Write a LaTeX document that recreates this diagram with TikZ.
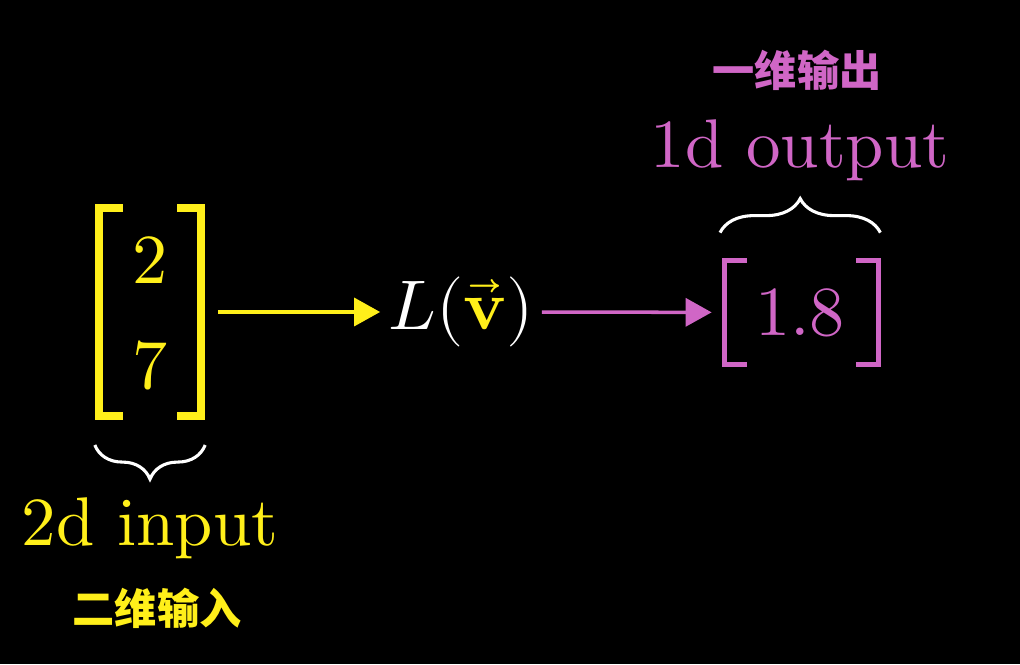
\documentclass[tikz,border=0pt]{standalone}
\usepackage{fontspec}
\usepackage{unicode-math}
\setmainfont{lmroman10-regular.otf}[ItalicFont=lmroman10-italic.otf, BoldFont=lmroman10-bold.otf]
\newfontfamily\cjk{Noto Sans CJK SC}
\usetikzlibrary{arrows.meta,positioning,calc,decorations.pathreplacing}
\definecolor{inyellow}{HTML}{FFEF1A}
\definecolor{outpink}{HTML}{D066C6}

\begin{document}
\begin{tikzpicture}[
  big/.style={font=\fontsize{50}{60}\selectfont, inner sep=0pt},
  tag/.style={font=\fontsize{49}{58}\selectfont, inner sep=0pt, anchor=base},
  cjktag/.style={font={\cjk\bfseries\fontsize{30}{36}\selectfont}, inner sep=0pt, anchor=base},
  matbox/.style={inner sep=0pt, minimum width=#1},
  yarr/.style={-{Triangle[length=0.65cm,width=0.7cm]}, line width=2.5pt, inyellow},
  parr/.style={-{Triangle[length=0.65cm,width=0.7cm]}, line width=2.5pt, outpink},
  brc/.style={decorate, decoration={brace, amplitude=0.85cm}, line width=2.2pt, white}
]
\fill[black] (0,0) rectangle (25.5,16.6);
\useasboundingbox (0,0) rectangle (25.5,16.6);

% input vector
\node[matbox=2.525cm, minimum height=5.2cm] (inmat) at (3.75,8.8) {};
\node[big, inyellow] (two) at (3.75,10.1) {2};
\node[big, inyellow] (seven) at (3.75,7.45) {7};
\draw[inyellow, line width=5.5pt] ($(inmat.north west)+(0.59,0)$) -- (inmat.north west) -- (inmat.south west) -- ($(inmat.south west)+(0.59,0)$);
\draw[inyellow, line width=5.5pt] ($(inmat.north east)+(-0.59,0)$) -- (inmat.north east) -- (inmat.south east) -- ($(inmat.south east)+(-0.59,0)$);

% transformation
\node[big, white] (lv) at (11.525,8.8) {$L(\textcolor{inyellow}{\vec{\mathbf{v}}})$};

% output number
\node[matbox=3.825cm, minimum height=2.575cm] (outmat) at (20.04,8.79) {};
\node[big, outpink] (val) at (20.0,8.775) {1.8};
\draw[outpink, line width=3.5pt] ($(outmat.north west)+(0.55,0)$) -- (outmat.north west) -- (outmat.south west) -- ($(outmat.south west)+(0.55,0)$);
\draw[outpink, line width=3.5pt] ($(outmat.north east)+(-0.55,0)$) -- (outmat.north east) -- (outmat.south east) -- ($(outmat.south east)+(-0.55,0)$);

\draw[yarr, shorten <=0.44cm, shorten >=0.2cm] (inmat.east) -- (lv.west);
\draw[parr, shorten <=0.2cm, shorten >=0.33cm] (lv.east) -- (outmat.west);

% braces and labels
\coordinate (inbl) at ($(inmat.south east)+(0.11,-0.72)$);
\coordinate (inbr) at ($(inmat.south west)+(-0.11,-0.72)$);
\draw[brc] (inbl) -- (inbr);
\coordinate (outbl) at ($(outmat.north west)+(-0.12,0.7)$);
\coordinate (outbr) at ($(outmat.north east)+(0.05,0.7)$);
\draw[brc] (outbl) -- (outbr);

\node[tag, inyellow] (intag) at (3.75,2.975) {2d input};
\node[cjktag, inyellow] (incn) at (3.925,1.0) {二维输入};
\node[tag, outpink] (outtag) at (20.0,12.4) {1d output};
\node[cjktag, outpink] (outcn) at (19.925,14.43) {一维输出};
\end{tikzpicture}
\end{document}
